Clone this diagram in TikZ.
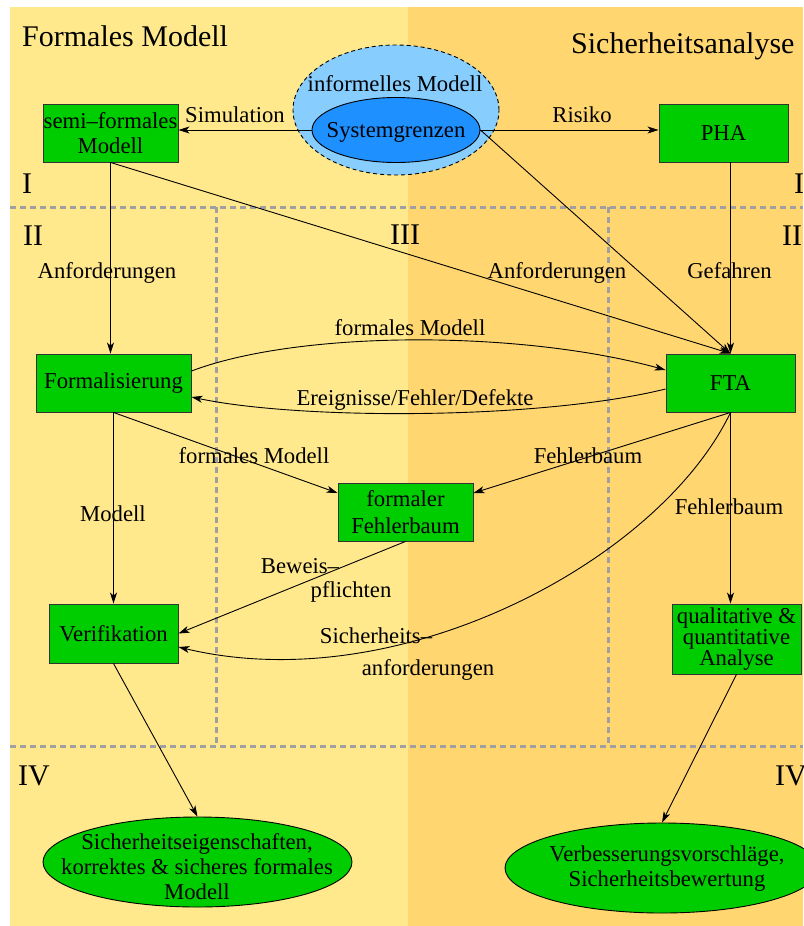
\documentclass[tikz,border=0pt]{standalone}
\usepackage{fontspec}
\setmainfont{Liberation Serif}
\usetikzlibrary{arrows.meta,shapes.geometric}
\definecolor{lyellow}{RGB}{255,233,140}
\definecolor{lorange}{RGB}{255,214,112}
\definecolor{lblue}{RGB}{135,206,255}
\definecolor{dblue}{RGB}{30,144,255}
\definecolor{boxgreen}{RGB}{0,205,0}
\definecolor{dashgray}{RGB}{160,160,160}
\begin{document}
\begin{tikzpicture}[x=1pt,y=-1pt,
  every node/.style={font=\fontsize{22.7}{25}\selectfont, inner sep=0pt},
  box/.style={draw=black!80, fill=boxgreen, line width=0.9pt, minimum width=#1, align=center},
  greenell/.style={ellipse, draw=black, fill=boxgreen, line width=0.9pt},
  conn/.style={line width=0.9pt, -{Stealth[length=11pt,width=7pt,inset=3pt]}},
  lbl/.style={anchor=base},
  num/.style={anchor=base west, font=\fontsize{30}{30}\selectfont},
  sep/.style={dashgray, line width=3pt, dash pattern=on 6pt off 4pt}]
\useasboundingbox (0,0) rectangle (803,926);
\fill[white] (0,0) rectangle (803,926);
\fill[lyellow] (10,7) rectangle (408,926);
\fill[lorange] (408,7) rectangle (803,926);
\draw[sep] (10,207) -- (803,207);
\draw[sep] (10,746) -- (803,746);
\draw[sep] (216,207) -- (216,746);
\draw[sep] (608,207) -- (608,746);

% titles and numerals
\node[num] (t1) at (22,46) {Formales Modell};
\node[num] (t2) at (571,53) {Sicherheitsanalyse};
\node[num] (n1) at (22,193) {I};
\node[num] (n2) at (794,193) {I};
\node[num] (n3) at (23,245) {II};
\node[num] (n4) at (390,244) {III};
\node[num] (n5) at (782,245) {II};
\node[num] (n6) at (18,785) {IV};
\node[num] (n7) at (775,785) {IV};

% nodes
\node[ellipse, draw=black, dash pattern=on 4pt off 3pt, fill=lblue, line width=0.9pt, minimum width=206, minimum height=130] (info) at (396,110) {};
\node[ellipse, draw=black, fill=dblue, line width=0.9pt, minimum width=168, minimum height=65] (sys) at (396,130) {};
\node[lbl] (infot) at (395,91) {informelles Modell};
\node[lbl] (syst) at (396,137) {Systemgrenzen};
\node[box=135, minimum height=58] (semi) at (110.5,133) {semi–formales\\Modell};
\node[box=129, minimum height=58] (pha) at (723.5,133) {PHA};
\node[box=155, minimum height=58] (form) at (113.5,383) {Formalisierung};
\node[box=129, minimum height=58] (fta) at (730.5,383) {FTA};
\node[box=135, minimum height=58, font=\fontsize{22.7}{26.5}\selectfont] (ffb) at (405.5,512) {formaler\\Fehlerbaum};
\node[box=129, minimum height=59] (verif) at (113.5,633.5) {Verifikation};
\node[box=129, minimum height=70, font=\fontsize{22.7}{21}\selectfont] (qual) at (736.5,639) {qualitative \&\\quantitative\\Analyse};
\node[greenell, minimum width=309, minimum height=90] (res1) at (197.5,862) {};
\node[align=center] (res1t) at (197,867) {Sicherheitseigenschaften,\\korrektes \& sicheres formales\\Modell};
\node[greenell, minimum width=314, minimum height=90] (res2) at (662,868) {};
\node[align=center] (res2t) at (667,869) {Verbesserungsvorschläge,\\Sicherheitsbewertung};

% connectors
\draw[conn] (sys.west) -- (sys.west -| semi.east);
\draw[conn] (sys.east) -- (sys.east -| pha.west);
\draw[conn] (semi.south) -- (semi.south |- form.north);
\draw[conn] (semi.south) -- (fta.north);
\draw[conn] (sys.east) -- (fta.north);
\draw[conn] (pha.south -| fta.north) -- (fta.north);
\draw[conn] ([yshift=12pt]form.east) .. controls (300,330) and (520,330) .. ([yshift=13pt]fta.west);
\draw[conn] ([yshift=-6pt]fta.west) .. controls (540,420) and (300,420) .. ([yshift=-14pt]form.east);
\draw[conn] (form.south) -- (verif.north);
\draw[conn] (form.south) -- ([yshift=19pt]ffb.west);
\draw[conn] (fta.south) -- ([yshift=19pt]ffb.east);
\draw[conn] (ffb.south) -- (verif.east);
\draw[conn] (fta.south) .. controls (660,560) and (400,700) .. ([yshift=-13.5pt]verif.east);
\draw[conn] (fta.south) -- (fta.south |- qual.north);
\draw[conn] (verif.south) -- (res1.north);
\draw[conn] (qual.south) -- (res2.north);

% labels
\node[lbl] (l1) at (235,122) {Simulation};
\node[lbl] (l2) at (582,122) {Risiko};
\node[lbl] (l3) at (107,278) {Anforderungen};
\node[lbl] (l4) at (557,278) {Anforderungen};
\node[lbl] (l5) at (729.5,278) {Gefahren};
\node[lbl] (l6) at (410,335) {formales Modell};
\node[lbl] (l7) at (415,405) {Ereignisse/Fehler/Defekte};
\node[lbl] (l8) at (254,463) {formales Modell};
\node[lbl] (l9) at (588,463) {Fehlerbaum};
\node[lbl] (l10) at (113,521) {Modell};
\node[lbl] (l11) at (729,514) {Fehlerbaum};
\node[lbl] (l12) at (300,573) {Beweis–};
\node[lbl] (l13) at (351,597) {pflichten};
\node[lbl] (l14) at (376,643) {Sicherheits–};
\node[lbl] (l15) at (428,675) {anforderungen};
\end{tikzpicture}
\end{document}
